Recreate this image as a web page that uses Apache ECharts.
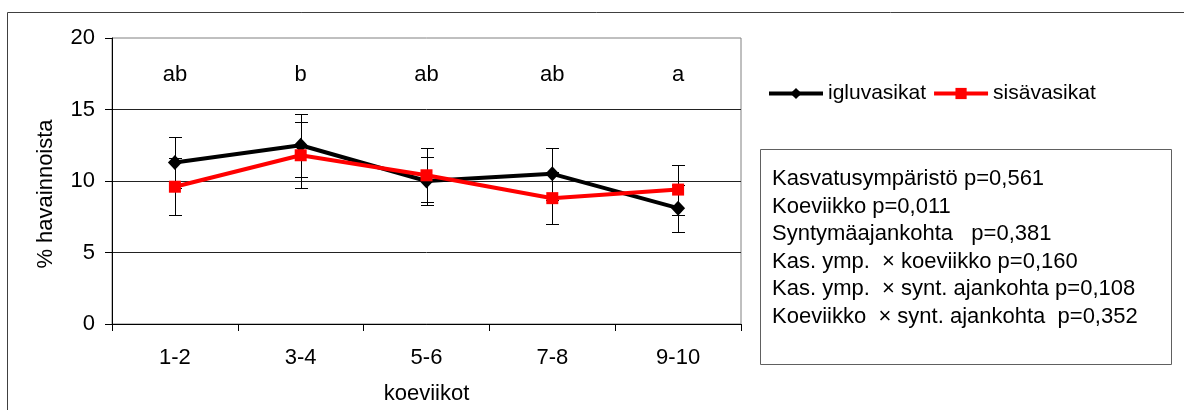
<!DOCTYPE html>
<html>
<head>
<meta charset="utf-8">
<script src="https://cdn.jsdelivr.net/npm/echarts@6/dist/echarts.min.js"></script>
<style>
  html, body { margin: 0; padding: 0; background: #fff; }
  #chart { width: 1184px; height: 410px; }
</style>
</head>
<body>
<div id="chart"></div>
<script>
// Koeviikot (study week pairs)
const weeks = ['1-2', '3-4', '5-6', '7-8', '9-10'];
// igluvasikat: mean % and error
const igluMeans = [11.3, 12.5, 10.0, 10.5, 8.1];
const igluErrors = [1.8, 2.2, 1.7, 1.8, 1.65];
// sisävasikat: mean % and error
const sisaMeans = [9.6, 11.8, 10.4, 8.8, 9.4];
const sisaErrors = [2.0, 2.3, 1.9, 1.8, 1.75];
// significance letters above each week pair
const groupLetters = ['ab', 'b', 'ab', 'ab', 'a'];
// statistics box lines
const statLines = [
  'Kasvatusympäristö p=0,561',
  'Koeviikko p=0,011',
  'Syntymäajankohta   p=0,381',
  'Kas. ymp.  \u00d7 koeviikko p=0,160',
  'Kas. ymp.  \u00d7 synt. ajankohta p=0,108',
  'Koeviikko  \u00d7 synt. ajankohta  p=0,352'
];

const FONT = "'Liberation Sans', Arial, sans-serif";
const FS = 22;
const LETTER_LEVEL = 17.45;

const chart = echarts.init(document.getElementById('chart'));

function errorBarItem(params, api) {
  const idx = api.value(0);
  const mean = api.value(1);
  const err = api.value(2);
  const top = api.coord([idx, mean + err]);
  const bot = api.coord([idx, mean - err]);
  const x = Math.round(top[0]) + 0.5;
  const yt = Math.round(top[1]) + 0.5;
  const yb = Math.round(bot[1]) + 0.5;
  const hw = 6.5;
  const st = { stroke: '#000', lineWidth: 1 };
  return {
    type: 'group',
    children: [
      { type: 'line', shape: { x1: x, y1: yt, x2: x, y2: yb }, style: st },
      { type: 'line', shape: { x1: x - hw, y1: yt, x2: x + hw, y2: yt }, style: st },
      { type: 'line', shape: { x1: x - hw, y1: yb, x2: x + hw, y2: yb }, style: st }
    ]
  };
}

function letterItem(params, api) {
  const p = api.coord([api.value(0), LETTER_LEVEL]);
  return {
    type: 'text',
    x: p[0],
    y: p[1],
    style: {
      text: groupLetters[params.dataIndex],
      fontFamily: FONT,
      fontSize: FS,
      fill: '#000',
      align: 'center',
      verticalAlign: 'middle'
    }
  };
}

const statTexts = statLines.map((t, i) => ({
  type: 'text',
  left: 772,
  top: 168 + i * 27.5,
  style: { text: t, fontFamily: FONT, fontSize: FS, fill: '#000' }
}));

chart.setOption({
  animation: false,
  textStyle: { fontFamily: FONT },
  grid: {
    left: 112, top: 38, width: 629, height: 290,
    show: true, borderColor: '#808080', borderWidth: 1, backgroundColor: 'transparent'
  },
  legend: {
    data: ['igluvasikat', 'sisävasikat'],
    left: 762, top: 78,
    itemWidth: 54, itemHeight: 14, itemGap: 6,
    lineStyle: { width: 4 },
    textStyle: { fontFamily: FONT, fontSize: 21, color: '#000' }
  },
  xAxis: {
    type: 'category',
    data: weeks,
    boundaryGap: true,
    name: 'koeviikot',
    nameLocation: 'middle',
    nameGap: 59,
    nameTextStyle: { fontFamily: FONT, fontSize: FS, color: '#000' },
    axisLine: { lineStyle: { color: '#000', width: 1 } },
    axisTick: { show: true, length: 7, lineStyle: { color: '#000' } },
    axisLabel: { margin: 23, fontFamily: FONT, fontSize: FS, color: '#000' },
    splitLine: { show: false }
  },
  yAxis: {
    type: 'value',
    min: 0, max: 20, interval: 5,
    name: '% havainnoista',
    nameLocation: 'middle',
    nameRotate: 90,
    nameGap: 55,
    nameTextStyle: { fontFamily: FONT, fontSize: FS, color: '#000', padding: [0, 26, 0, 0] },
    axisLine: { show: true, lineStyle: { color: '#000', width: 1 } },
    axisTick: { show: true, length: 7, lineStyle: { color: '#000' } },
    axisLabel: { margin: 17, fontFamily: FONT, fontSize: FS, color: '#000' },
    splitLine: { show: true, showMaxLine: false, lineStyle: { color: '#222', width: 1 } }
  },
  graphic: [
    {
      type: 'rect', z: -10,
      shape: { x: 7.5, y: 12.5, width: 1200, height: 420 },
      style: { fill: 'none', stroke: '#404040', lineWidth: 1 }
    },
    {
      type: 'rect',
      shape: { x: 760.5, y: 149.5, width: 411, height: 215 },
      style: { fill: '#fff', stroke: '#606060', lineWidth: 1 }
    }
  ].concat(statTexts),
  series: [
    {
      name: 'igluvasikat-err', type: 'custom', z: 1,
      renderItem: errorBarItem,
      encode: { x: 0, y: 1 },
      data: igluMeans.map((m, i) => [i, m, igluErrors[i]])
    },
    {
      name: 'sisävasikat-err', type: 'custom', z: 1,
      renderItem: errorBarItem,
      encode: { x: 0, y: 1 },
      data: sisaMeans.map((m, i) => [i, m, sisaErrors[i]])
    },
    {
      name: 'igluvasikat', type: 'line', z: 3,
      data: igluMeans,
      symbol: 'diamond', symbolSize: [14, 15],
      lineStyle: { color: '#000', width: 4 },
      itemStyle: { color: '#000' }
    },
    {
      name: 'sisävasikat', type: 'line', z: 4,
      data: sisaMeans,
      symbol: 'rect', symbolSize: 12,
      lineStyle: { color: '#ff0000', width: 4 },
      itemStyle: { color: '#ff0000' }
    },
    {
      name: 'letters', type: 'custom', z: 5,
      renderItem: letterItem,
      encode: { x: 0, y: 1 },
      data: weeks.map((w, i) => [i, LETTER_LEVEL])
    }
  ]
});
</script>
</body>
</html>
